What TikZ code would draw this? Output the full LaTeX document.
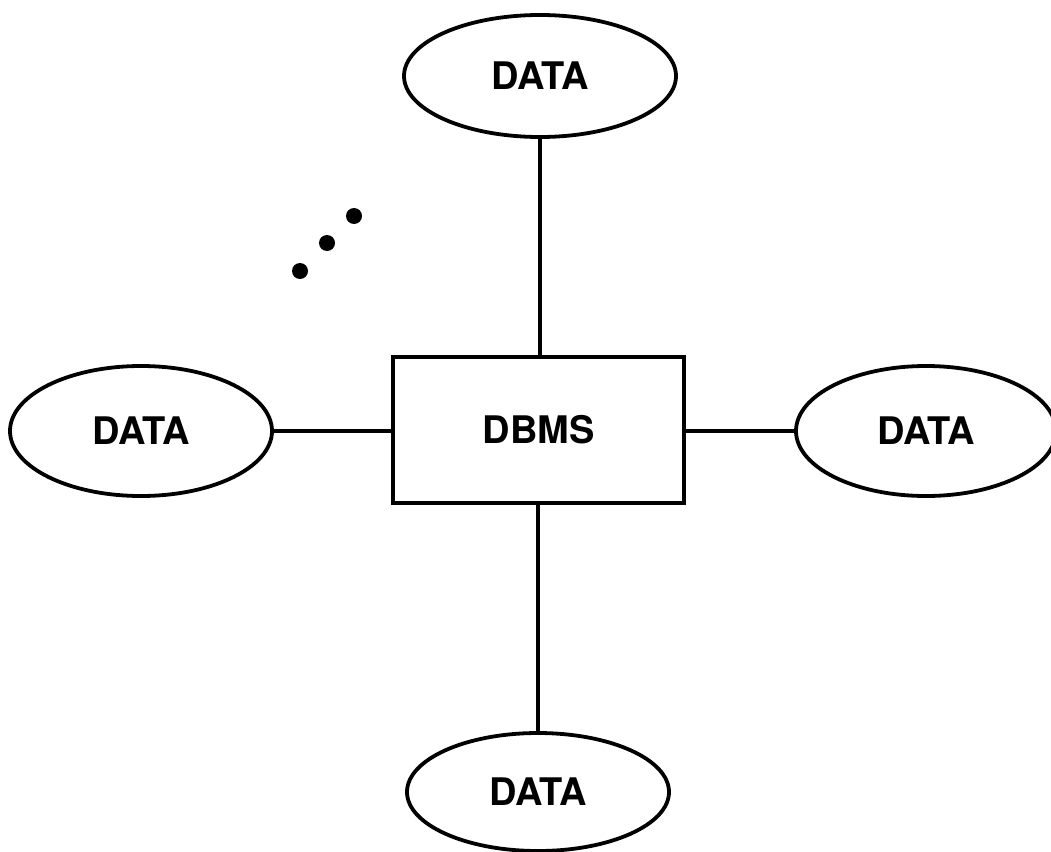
\documentclass[tikz,border=0pt]{standalone}
\usepackage{fontspec}
\setmainfont{TeX Gyre Heros}
\usetikzlibrary{shapes.geometric}
\begin{document}
\begin{tikzpicture}[x=1pt,y=-1pt,
  lbl/.style={font=\fontsize{38}{42}\bfseries\selectfont},
  datanode/.style={ellipse,draw,line width=3.8pt,inner sep=0pt,lbl},
  dbmsnode/.style={rectangle,draw,line width=4pt,inner sep=0pt,lbl,minimum width=291pt,minimum height=146pt},
  conn/.style={line width=3.6pt},
  dotmark/.style={circle,fill=black,inner sep=0pt,minimum size=16pt}]
\useasboundingbox (0,0) rectangle (1051,851);
\node[dbmsnode] (dbms) at (538.5,430) {DBMS};
\node[datanode,minimum width=272pt,minimum height=122pt] (top) at (540,76) {DATA};
\node[datanode,minimum width=262pt,minimum height=130pt] (left) at (141,431) {DATA};
\node[datanode,minimum width=260pt,minimum height=130pt] (right) at (926,431) {DATA};
\node[datanode,minimum width=262pt,minimum height=118pt] (bottom) at (538,792) {DATA};
\draw[conn] (top.south) -- (top.south |- dbms.north);
\draw[conn] (bottom.north) -- (bottom.north |- dbms.south);
\draw[conn] (left.east) -- (left.east -| dbms.west);
\draw[conn] (right.west) -- (right.west -| dbms.east);
\node[dotmark] (d1) at (354,216) {};
\node[dotmark] (d2) at (327,243) {};
\node[dotmark] (d3) at (300,271) {};
\end{tikzpicture}
\end{document}
